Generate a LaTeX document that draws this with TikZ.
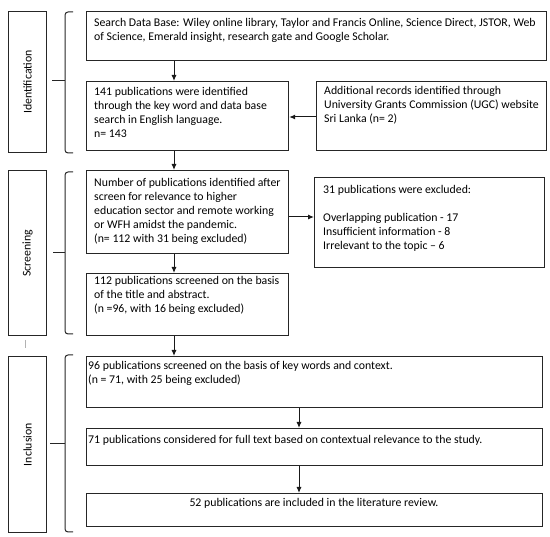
\documentclass[tikz,border=0pt]{standalone}
\usepackage{fontspec}
\setmainfont{Carlito}
\usetikzlibrary{arrows.meta}

\tikzset{
	box/.style={draw=black!85, line width=1.2pt, anchor=north west, inner sep=0pt},
	sidebox/.style={box, minimum width=38pt},
	txt/.style={anchor=north west, inner sep=0pt, align=left, font=\fontsize{11.8}{13.9}\selectfont},
	sidetxt/.style={inner sep=0pt, rotate=90, font=\fontsize{11.8}{13.9}\selectfont},
	arr/.style={draw=black!90, line width=1pt, -{Latex[length=6pt,width=5pt]}},
	brace/.style={draw=black!85, line width=1pt, rounded corners=3pt}
}

\begin{document}
\begin{tikzpicture}[x=1pt,y=-1pt]
			\useasboundingbox (0,0) rectangle (550,537);

			\node[sidebox, minimum height=141pt] (sI) at (8,11) {};
			\node[sidebox, minimum height=165pt] (sS) at (8,170) {};
			\node[sidebox, minimum height=176pt] (sN) at (8,356) {};
			\node[sidetxt] (lI) at (sI.center) {Identification};
			\node[sidetxt] (lS) at (sS.center) {Screening};
			\node[sidetxt] (lN) at (sN.center) {Inclusion};
			\draw[gray!60, line width=0.6pt] (25,340) -- (25,348);

			\draw[brace] (73,12) -- (65,12) -- (65,153) -- (73,153);
			\draw[brace] (73,172) -- (65,172) -- (65,334) -- (73,334);
			\draw[brace] (73,355) -- (65,355) -- (65,532) -- (73,532);
			\draw[brace] (52,81) -- (65,81);
			\draw[brace] (53,253) -- (65,253);
			\draw[brace] (50,444) -- (65,444);

			\node[box, minimum width=460pt, minimum height=49pt] (b1) at (86,11) {};
			\node[box, minimum width=202pt, minimum height=69pt] (b2) at (86,81) {};
			\node[box, minimum width=230pt, minimum height=69pt] (b3) at (316,81) {};
			\node[box, minimum width=202pt, minimum height=83pt] (b4) at (86,170) {};
			\node[box, minimum width=230pt, minimum height=90pt] (b5) at (314,177) {};
			\node[box, minimum width=202pt, minimum height=62pt] (b6) at (86,273) {};
			\node[box, minimum width=456pt, minimum height=51pt] (b7) at (86,356) {};
			\node[box, minimum width=456pt, minimum height=37pt] (b8) at (86,428) {};
			\node[box, minimum width=456pt, minimum height=33pt] (b9) at (86,493) {};

			\node[txt] (t1) at (94,17) {\strut Search Data Base: Wiley online library, Taylor and Francis Online, Science Direct, JSTOR, Web\\of Science, Emerald insight, research gate and Google Scholar.};
			\node[txt] (t2) at (94,86) {\strut 141 publications were identified\\through the key word and data base\\search in English language.\\n= 143};
			\node[txt] (t3) at (324,85) {\strut Additional records identified through\\University Grants Commission (UGC) website\\Sri Lanka (n= 2)};
			\node[txt] (t4) at (94,177) {\strut Number of publications identified after\\screen for relevance to higher\\education sector and remote working\\or WFH amidst the pandemic.\\(n= 112 with 31 being excluded)};
			\node[txt] (t5) at (323,184) {\strut 31 publications were excluded:\\[13.9pt]Overlapping publication - 17\\Insufficient information - 8\\Irrelevant to the topic -- 6};
			\node[txt] (t6) at (94,275) {\strut 112 publications screened on the basis\\of the title and abstract.\\(n =96, with 16 being excluded)};
			\node[txt] (t7) at (88,360) {\strut 96 publications screened on the basis of key words and context.\\(n = 71, with 25 being excluded)};
			\node[txt] (t8) at (88,434) {\strut 71 publications considered for full text based on contextual relevance to the study.};
			\node[txt, anchor=north] (t9) at (314,497) {\strut 52 publications are included in the literature review.};

			\coordinate (xa) at (174,0);
			\coordinate (xb) at (299,0);
			\coordinate (ya) at (0,117);
			\coordinate (yb) at (0,217);
			\draw[arr] (b1.south -| xa) -- (b2.north -| xa);
			\draw[arr] (b2.south -| xa) -- (b4.north -| xa);
			\draw[arr] (b3.west |- ya) -- (b2.east |- ya);
			\draw[arr] (b4.east |- yb) -- (b5.west |- yb);
			\draw[arr] (b4.south -| xa) -- (b6.north -| xa);
			\draw[arr] (b6.south -| xa) -- (b7.north -| xa);
			\draw[arr] (b7.south -| xb) -- (b8.north -| xb);
			\draw[arr] (b8.south -| xb) -- (b9.north -| xb);
\end{tikzpicture}
\end{document}
